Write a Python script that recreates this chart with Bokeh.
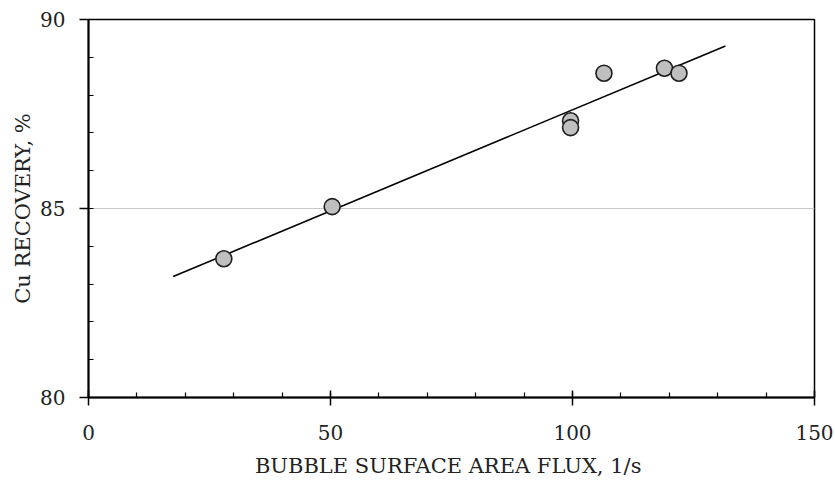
from bokeh.plotting import figure
from bokeh.models import SingleIntervalTicker, FixedTicker, Range1d
from bokeh.embed import file_html
from bokeh.resources import INLINE

# data
flux = [27.96, 50.35, 99.6, 99.6, 106.5, 119.0, 122.0]
recovery = [83.67, 85.05, 87.32, 87.14, 88.58, 88.71, 88.58]
trend_x = [17.5, 131.6]
trend_y = [83.20, 89.30]
x_title = "BUBBLE SURFACE  AREA FLUX, 1/s"
y_title = "Cu RECOVERY, %"

FONT = "DejaVu Serif"

p = figure(width=834, height=480, output_backend="svg", toolbar_location=None,
           x_range=Range1d(0, 150), y_range=Range1d(80, 90),
           min_border_left=88, min_border_right=20, min_border_top=19, min_border_bottom=82)

p.outline_line_color = "black"
p.outline_line_width = 1.5
p.background_fill_color = "white"
p.border_fill_color = "white"

p.xgrid.visible = False
p.ygrid.ticker = FixedTicker(ticks=[85])
p.ygrid.grid_line_color = "#c8c8c8"
p.ygrid.grid_line_width = 1.2

p.line(trend_x, trend_y, line_color="black", line_width=1.6)
p.scatter(flux, recovery, size=16, fill_color="#bfbfbf", line_color="#1e1e1e", line_width=1.6)

xa = p.xaxis[0]
xa.ticker = SingleIntervalTicker(interval=50, num_minor_ticks=5)
xa.axis_label = x_title
ya = p.yaxis[0]
ya.ticker = SingleIntervalTicker(interval=5, num_minor_ticks=5)
ya.axis_label = y_title

for ax in (xa, ya):
    ax.axis_line_color = "black"
    ax.axis_line_width = 2
    ax.major_tick_line_color = "black"
    ax.major_tick_line_width = 1.5
    ax.minor_tick_line_color = "black"
    ax.minor_tick_line_width = 1.2
    ax.minor_tick_in = 5
    ax.minor_tick_out = 0
    ax.major_label_text_font = FONT
    ax.major_label_text_font_size = "20px"
    ax.major_label_text_color = "#222222"
    ax.axis_label_text_font = FONT
    ax.axis_label_text_font_style = "normal"
    ax.axis_label_text_color = "#222222"

xa.axis_label_text_font_size = "21px"
ya.axis_label_text_font_size = "21px"
xa.major_tick_in = 7
xa.major_tick_out = 8
xa.major_label_standoff = 19
xa.axis_label_standoff = 11
ya.major_tick_in = 0
ya.major_tick_out = 9
ya.major_label_standoff = 14
ya.axis_label_standoff = 2

open("out.html", "w").write(file_html(p, INLINE))
